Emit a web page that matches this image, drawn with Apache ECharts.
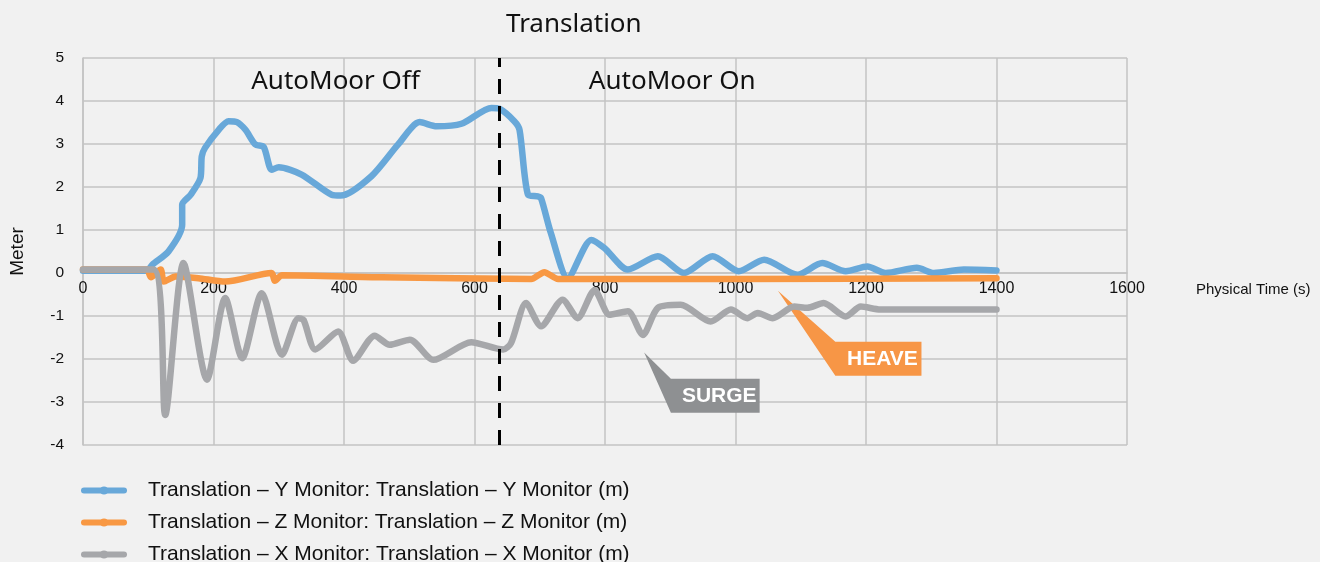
<!DOCTYPE html>
<html>
<head>
<meta charset="utf-8">
<title>Translation</title>
<script src="https://cdn.jsdelivr.net/npm/echarts@6/dist/echarts.min.js"></script>
<style>
  html, body { margin: 0; padding: 0; background: #f1f1f1; }
  #chart { width: 1320px; height: 562px; }
</style>
</head>
<body>
<div id="chart"></div>
<script>
// Translation – Y (sway, blue)
var yTime = [0, 98, 106, 131, 152, 152, 165, 180, 182, 187, 208, 223, 236, 249, 264, 277, 289, 300, 335, 381, 395, 442, 483, 516, 542, 580, 626, 638, 661, 669, 682, 697, 702, 717, 743, 779, 799, 835, 881, 921, 965, 1005, 1044, 1095, 1133, 1169, 1202, 1230, 1278, 1304, 1350, 1400];
var yValues = [0.05, 0.05, 0.19, 0.5, 1.12, 1.59, 1.82, 2.21, 2.71, 2.91, 3.33, 3.53, 3.51, 3.33, 2.99, 2.93, 2.4, 2.46, 2.29, 1.82, 1.8, 2.25, 2.99, 3.51, 3.41, 3.47, 3.84, 3.82, 3.53, 3.33, 1.82, 1.78, 1.74, 0.93, -0.12, 0.77, 0.58, 0.08, 0.39, 0.0, 0.39, 0.04, 0.31, -0.04, 0.23, 0.04, 0.15, 0.0, 0.12, 0.0, 0.08, 0.06];

// Translation – Z (heave, orange)
var zTime = [0, 98, 104, 119, 124, 142, 177, 218, 289, 294, 305, 458, 687, 707, 728, 1000, 1400];
var zValues = [0.08, 0.08, -0.1, 0.08, -0.2, -0.08, -0.12, -0.2, 0.0, -0.18, -0.05, -0.1, -0.14, 0.02, -0.14, -0.14, -0.12];

// Translation – X (surge, grey)
var xTime = [0, 108, 126, 154, 190, 218, 244, 274, 305, 330, 338, 356, 391, 414, 447, 470, 501, 537, 595, 644, 656, 679, 702, 735, 758, 784, 807, 835, 858, 881, 916, 962, 993, 1018, 1034, 1057, 1090, 1110, 1135, 1169, 1192, 1222, 1400];
var xValues = [0.08, 0.08, -3.3, 0.23, -2.48, -0.58, -1.98, -0.47, -1.9, -1.05, -1.09, -1.78, -1.36, -2.04, -1.46, -1.67, -1.55, -2.02, -1.61, -1.78, -1.63, -0.7, -1.24, -0.62, -1.05, -0.4, -0.97, -0.89, -1.44, -0.81, -0.74, -1.13, -0.85, -1.05, -0.93, -1.05, -0.78, -0.81, -0.7, -1.01, -0.78, -0.85, -0.85];

var seriesNames = [
  'Translation – Y Monitor: Translation – Y Monitor (m)',
  'Translation – Z Monitor: Translation – Z Monitor (m)',
  'Translation – X Monitor: Translation – X Monitor (m)'
];
var seriesColors = ['#68a8d9', '#f89843', '#a6a7aa'];

var autoMoorTime = 638;
var phaseLabels = [
  { text: 'AutoMoor Off', x: 387, y: 4.45 },
  { text: 'AutoMoor On', x: 903, y: 4.45 }
];
// callouts: tip point and box corners in data units
var callouts = [
  { text: 'HEAVE', color: '#f79646', tip: [1065, -0.41], box: [1153, -1.6, 1285, -2.39] },
  { text: 'SURGE', color: '#8e9092', tip: [860, -1.85], box: [901, -2.46, 1037, -3.25] }
];

function zip(a, b) {
  var out = [];
  for (var i = 0; i < a.length; i++) out.push([a[i], b[i]]);
  return out;
}

var chart = echarts.init(document.getElementById('chart'));

var font = 'Liberation Sans, Arial, sans-serif';
var gridColor = '#c3c3c3';
var gridHeight = 387;

function lineSeries(idx, data) {
  return {
    name: seriesNames[idx],
    type: 'line',
    data: data,
    smooth: 0.25,
    symbol: 'circle',
    symbolSize: 10,
    showSymbol: false,
    lineStyle: { width: 6.5, color: seriesColors[idx], cap: 'round', join: 'round' },
    itemStyle: { color: seriesColors[idx] },
    emphasis: { disabled: true },
    animation: false
  };
}

var series = [
  lineSeries(0, zip(yTime, yValues)),
  lineSeries(1, zip(zTime, zValues)),
  lineSeries(2, zip(xTime, xValues))
];
series[0].markLine = {
  silent: true,
  symbol: 'none',
  label: { show: false },
  lineStyle: { color: '#000', width: 3, type: [15, 12] },
  data: [{ xAxis: autoMoorTime }]
};

var option = {
  backgroundColor: '#f1f1f1',
  title: {
    text: 'Translation',
    left: 501,
    top: 7,
    textStyle: { fontFamily: 'Noto Sans, Open Sans, sans-serif', fontSize: 26, fontWeight: 'normal', color: '#111' }
  },
  grid: { left: 81, top: 58, width: 1046, height: gridHeight },
  xAxis: {
    type: 'value',
    min: 0, max: 1600, interval: 200,
    position: 'bottom',
    // x axis sits on the zero line: 4 of 9 units above the bottom
    offset: -gridHeight * 4 / 9,
    name: 'Physical Time (s)',
    nameLocation: 'end',
    nameGap: 69,
    nameTextStyle: { fontFamily: font, fontSize: 15, color: '#111', verticalAlign: 'top', padding: [9, 0, 0, 0] },
    axisLine: { show: true, onZero: false, lineStyle: { color: gridColor, width: 1.5 } },
    axisTick: { show: false },
    axisLabel: {
      fontFamily: font, fontSize: 16, color: '#111', margin: 8,
      formatter: function (v) { return String(v); }
    },
    splitLine: { show: true, lineStyle: { color: gridColor, width: 1.5 } }
  },
  yAxis: {
    type: 'value',
    min: -4, max: 5, interval: 1,
    name: 'Meter',
    nameLocation: 'middle',
    nameGap: 56,
    nameRotate: 90,
    nameTextStyle: { fontFamily: font, fontSize: 19, color: '#111' },
    axisLine: { show: true, lineStyle: { color: gridColor, width: 1.5 } },
    axisTick: { show: false },
    axisLabel: { fontFamily: font, fontSize: 15.5, color: '#111', margin: 19 },
    splitLine: { show: true, lineStyle: { color: gridColor, width: 1.5 } }
  },
  legend: {
    orient: 'vertical',
    left: 81,
    top: 480,
    width: 700,
    height: 100,
    padding: 0,
    itemWidth: 40,
    itemHeight: 10,
    itemGap: 11,
    selectedMode: false,
    lineStyle: { width: 6 },
    textStyle: { fontFamily: font, fontSize: 21, color: '#111', padding: [0, 0, 0, 19] },
    data: seriesNames
  },
  series: series
};

chart.setOption(option);

// second pass: put phase labels and callouts at data positions
var graphics = [];
phaseLabels.forEach(function (p) {
  var pt = chart.convertToPixel({ gridIndex: 0 }, [p.x, p.y]);
  graphics.push({
    type: 'text',
    x: pt[0], y: pt[1],
    style: {
      text: p.text,
      fontFamily: 'Noto Sans, Open Sans, sans-serif',
      fontSize: 26,
      fill: '#111',
      align: 'center',
      verticalAlign: 'middle'
    }
  });
});
callouts.forEach(function (c) {
  var tip = chart.convertToPixel({ gridIndex: 0 }, c.tip);
  var tl = chart.convertToPixel({ gridIndex: 0 }, [c.box[0], c.box[1]]);
  var br = chart.convertToPixel({ gridIndex: 0 }, [c.box[2], c.box[3]]);
  graphics.push({
    type: 'polygon',
    shape: { points: [tip, [tl[0], tl[1]], [br[0], tl[1]], [br[0], br[1]], [tl[0], br[1]]] },
    style: { fill: c.color }
  });
  graphics.push({
    type: 'text',
    x: (tl[0] + br[0]) / 2 + 4,
    y: (tl[1] + br[1]) / 2,
    style: {
      text: c.text,
      fontFamily: 'Liberation Sans Narrow, Liberation Sans, Arial, sans-serif',
      fontSize: 21,
      fontWeight: 'bold',
      fill: '#fff',
      align: 'center',
      verticalAlign: 'middle'
    }
  });
});
chart.setOption({ graphic: graphics });
</script>
</body>
</html>
